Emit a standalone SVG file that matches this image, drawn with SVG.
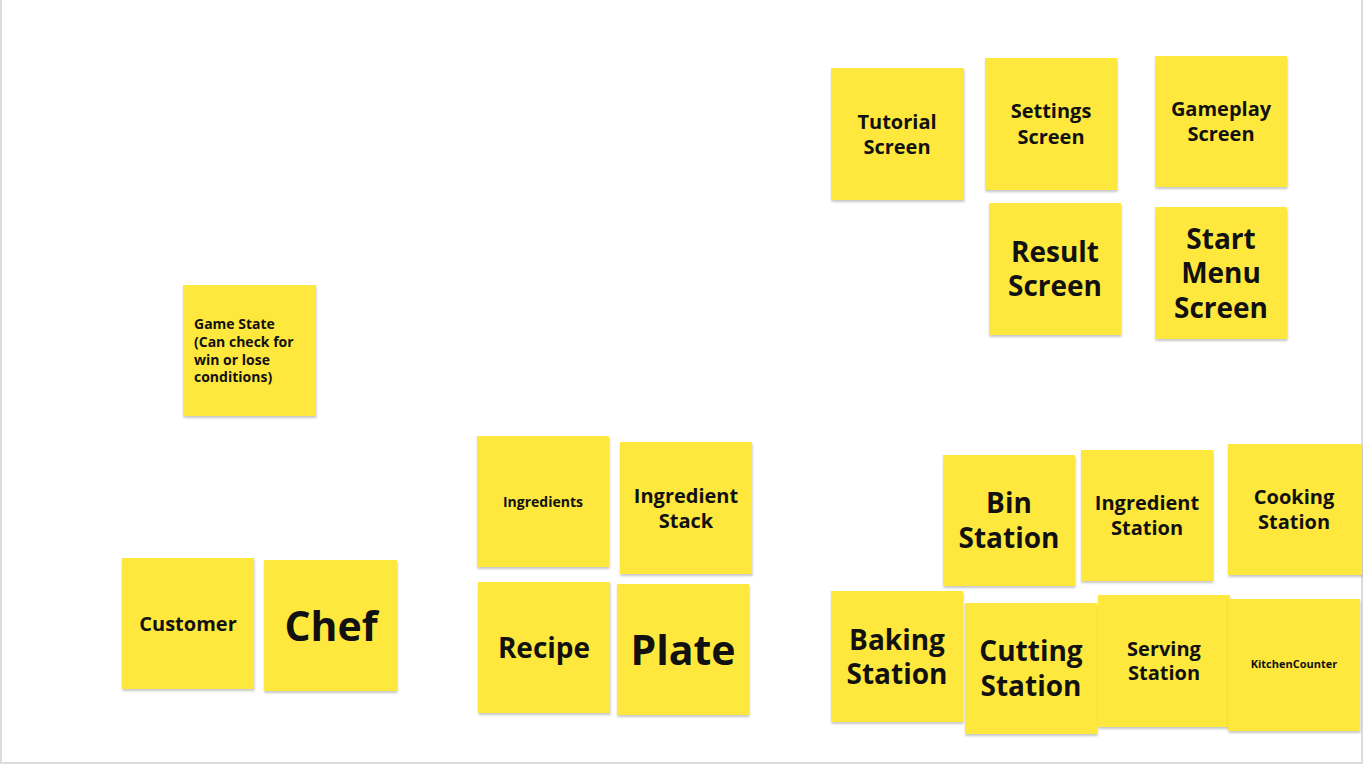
<svg xmlns="http://www.w3.org/2000/svg" width="1363" height="765" viewBox="0 0 1363 765">
<defs>
<filter id="sh" x="-10%" y="-10%" width="125%" height="125%">
<feDropShadow dx="0.5" dy="2" stdDeviation="1.2" flood-color="#000" flood-opacity="0.22"/>
</filter>
<style>
.n{fill:#FEE83C;filter:url(#sh)}
text{font-family:"Open Sans","Liberation Sans",sans-serif;font-weight:700;fill:#111;text-anchor:middle;dominant-baseline:central}
.s11{font-size:11px}.s13{font-size:14px}.s20{font-size:20px}.s28{font-size:28px}.s40{font-size:41px}
.gs{font-size:14px;text-anchor:start}
</style>
</defs>
<rect x="0" y="0" width="1363" height="765" fill="#fff"/>
<rect x="1" y="-2" width="1361" height="765" fill="none" stroke="#dcdcdc" stroke-width="2"/>
<g id="connectors"/>
<g id="tutorial"><rect class="n" x="831" y="68" width="133" height="132"/><text class="s20"><tspan x="897" y="121">Tutorial</tspan><tspan x="897" y="146">Screen</tspan></text></g>
<g id="settings"><rect class="n" x="985" y="58" width="132" height="132"/><text class="s20"><tspan x="1051" y="110">Settings</tspan><tspan x="1051" y="136">Screen</tspan></text></g>
<g id="gameplay"><rect class="n" x="1155" y="56" width="132" height="131"/><text class="s20"><tspan x="1221" y="108">Gameplay</tspan><tspan x="1221" y="133">Screen</tspan></text></g>
<g id="result"><rect class="n" x="989" y="203" width="132" height="132"/><text class="s28"><tspan x="1055" y="251">Result</tspan><tspan x="1055" y="285">Screen</tspan></text></g>
<g id="startmenu"><rect class="n" x="1155" y="207" width="132" height="132"/><text class="s28"><tspan x="1221" y="238">Start</tspan><tspan x="1221" y="272">Menu</tspan><tspan x="1221" y="307">Screen</tspan></text></g>
<g id="gamestate"><rect class="n" x="183" y="285" width="133" height="131"/><text class="gs"><tspan x="194" y="323">Game State</tspan><tspan x="194" y="341">(Can check for</tspan><tspan x="194" y="359">win or lose</tspan><tspan x="194" y="376">conditions)</tspan></text></g>
<g id="ingredients"><rect class="n" x="477" y="436" width="132" height="131"/><text class="s13" x="543" y="501">Ingredients</text></g>
<g id="ingredientstack"><rect class="n" x="620" y="442" width="132" height="132"/><text class="s20"><tspan x="686" y="495">Ingredient</tspan><tspan x="686" y="520">Stack</tspan></text></g>
<g id="customer"><rect class="n" x="122" y="558" width="132" height="131"/><text class="s20" x="188" y="623">Customer</text></g>
<g id="chef"><rect class="n" x="264" y="560" width="133" height="131"/><text class="s40" x="331" y="625">Chef</text></g>
<g id="recipe"><rect class="n" x="478" y="582" width="132" height="131"/><text class="s28" x="544" y="647">Recipe</text></g>
<g id="plate"><rect class="n" x="617" y="584" width="132" height="131"/><text class="s40" x="683" y="649">Plate</text></g>
<g id="bin"><rect class="n" x="943" y="455" width="132" height="131"/><text class="s28"><tspan x="1009" y="502">Bin</tspan><tspan x="1009" y="537">Station</tspan></text></g>
<g id="ingredientstation"><rect class="n" x="1081" y="450" width="132" height="131"/><text class="s20"><tspan x="1147" y="502">Ingredient</tspan><tspan x="1147" y="527">Station</tspan></text></g>
<g id="cooking"><rect class="n" x="1228" y="444" width="134" height="131"/><text class="s20"><tspan x="1294" y="496">Cooking</tspan><tspan x="1294" y="521">Station</tspan></text></g>
<g id="baking"><rect class="n" x="831" y="591" width="132" height="131"/><text class="s28"><tspan x="897" y="639">Baking</tspan><tspan x="897" y="673">Station</tspan></text></g>
<g id="cutting"><rect class="n" x="965" y="603" width="132" height="131"/><text class="s28"><tspan x="1031" y="650">Cutting</tspan><tspan x="1031" y="685">Station</tspan></text></g>
<g id="serving"><rect class="n" x="1098" y="595" width="132" height="132"/><text class="s20"><tspan x="1164" y="648">Serving</tspan><tspan x="1164" y="672">Station</tspan></text></g>
<g id="kitchencounter"><rect class="n" x="1228" y="599" width="132" height="132"/><text class="s11" x="1294" y="663">KitchenCounter</text></g>
</svg>
